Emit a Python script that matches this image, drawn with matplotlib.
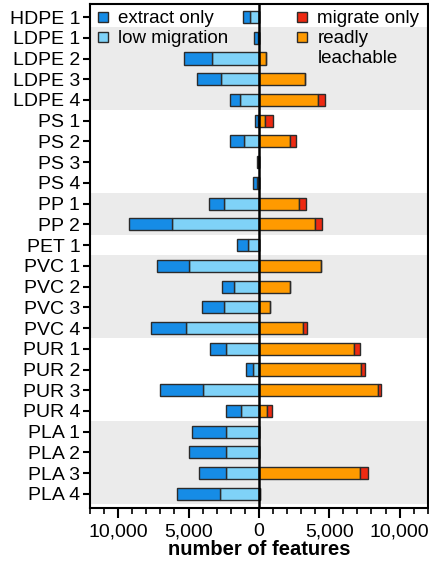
import matplotlib
matplotlib.use("Agg")
import matplotlib.pyplot as plt
from matplotlib.lines import Line2D
from matplotlib.ticker import FuncFormatter, MultipleLocator

plt.rcParams['font.family'] = ['Liberation Sans', 'DejaVu Sans']

samples = ['HDPE 1', 'LDPE 1', 'LDPE 2', 'LDPE 3', 'LDPE 4',
           'PS 1', 'PS 2', 'PS 3', 'PS 4', 'PP 1', 'PP 2', 'PET 1',
           'PVC 1', 'PVC 2', 'PVC 3', 'PVC 4',
           'PUR 1', 'PUR 2', 'PUR 3', 'PUR 4',
           'PLA 1', 'PLA 2', 'PLA 3', 'PLA 4']

# left side (extracts)
low_migration = [600, 80, 3300, 2700, 1350,
                 60, 1070, 50, 150, 2450, 6200, 790,
                 4950, 1740, 2450, 5150,
                 2330, 450, 4000, 1260,
                 2330, 2330, 2330, 2790]
extract_only = [500, 300, 2020, 1670, 710,
                250, 950, 100, 300, 1100, 3050, 760,
                2310, 880, 1570, 2550,
                1170, 480, 3020, 1070,
                2400, 2620, 1900, 3000]

# right side (migrates)
readily_leachable = [0, 0, 520, 3260, 4210,
                     450, 2240, 0, 0, 2860, 4020, 0,
                     4380, 2210, 810, 3170,
                     6760, 7260, 8500, 570,
                     0, 0, 7190, 100]
migrate_only = [0, 0, 0, 0, 520,
                570, 380, 0, 0, 480, 480, 0,
                0, 0, 0, 240,
                400, 290, 170, 360,
                0, 0, 600, 0]

# shaded groups (first row, last row)
bands = [(1, 4), (9, 10), (12, 15), (20, 23)]

c_extract = '#168ce6'
c_low = '#7fd2f8'
c_ready = '#ff9a00'
c_migr = '#ee2a12'
edge = '#2b2b2b'

fig = plt.figure(figsize=(4.29, 5.68), dpi=100)
ax = fig.add_axes([0.21, 0.106, 0.787, 0.887])

y = list(range(len(samples)))
h = 0.58

for a, b in bands:
    ax.axhspan(a - 0.5, b + 0.5, color='#ebebeb', zorder=0, lw=0)

ax.barh(y, [-v for v in low_migration], left=0, height=h, color=c_low,
        edgecolor=edge, linewidth=1, zorder=2)
ax.barh(y, [-v for v in extract_only], left=[-v for v in low_migration],
        height=h, color=c_extract, edgecolor=edge, linewidth=1, zorder=2)
ax.barh(y, readily_leachable, left=0, height=h, color=c_ready,
        edgecolor=edge, linewidth=1, zorder=2)
ax.barh(y, migrate_only, left=readily_leachable, height=h, color=c_migr,
        edgecolor=edge, linewidth=1, zorder=2)

ax.axvline(0, color='black', lw=1.8, zorder=3)

ax.set_xlim(-12000, 12000)
ax.set_ylim(23.67, -0.63)
ax.set_yticks(y)
ax.set_yticklabels(samples, fontsize=14)
ax.xaxis.set_major_locator(MultipleLocator(5000))
ax.xaxis.set_minor_locator(MultipleLocator(1000))
ax.xaxis.set_major_formatter(FuncFormatter(lambda v, p: f"{abs(int(v)):,}"))
ax.tick_params(axis='x', which='major', length=7, width=1.5, labelsize=14, pad=4)
ax.tick_params(axis='x', which='minor', length=4, width=1.2)
ax.tick_params(axis='y', length=5, width=1.5, pad=2)
for s in ax.spines.values():
    s.set_linewidth(1.5)
ax.set_xlabel('number of features', fontsize=14.5, fontweight='bold', labelpad=0)

def sq(c):
    return Line2D([], [], marker='s', ls='none', markersize=7,
                  markerfacecolor=c, markeredgecolor=edge, markeredgewidth=1)

leg1 = ax.legend([sq(c_extract), sq(c_low)], ['extract only', 'low migration'],
                 loc='upper left', bbox_to_anchor=(-0.018, 1.01), frameon=False,
                 fontsize=13.5, handlelength=0.8, handletextpad=0.4,
                 labelspacing=0.15, borderaxespad=0.2)
ax.add_artist(leg1)
leg2 = ax.legend([sq(c_migr), sq(c_ready)], ['migrate only', 'readly'],
                 loc='upper left', bbox_to_anchor=(0.573, 1.01), frameon=False,
                 fontsize=13.5, handlelength=0.8, handletextpad=0.4,
                 labelspacing=0.15, borderaxespad=0.2)
ax.text(0.673, 2.0, 'leachable', transform=ax.get_yaxis_transform(),
        fontsize=13.5, va='center', ha='left', zorder=4)

fig.savefig('out.png', dpi=100)
